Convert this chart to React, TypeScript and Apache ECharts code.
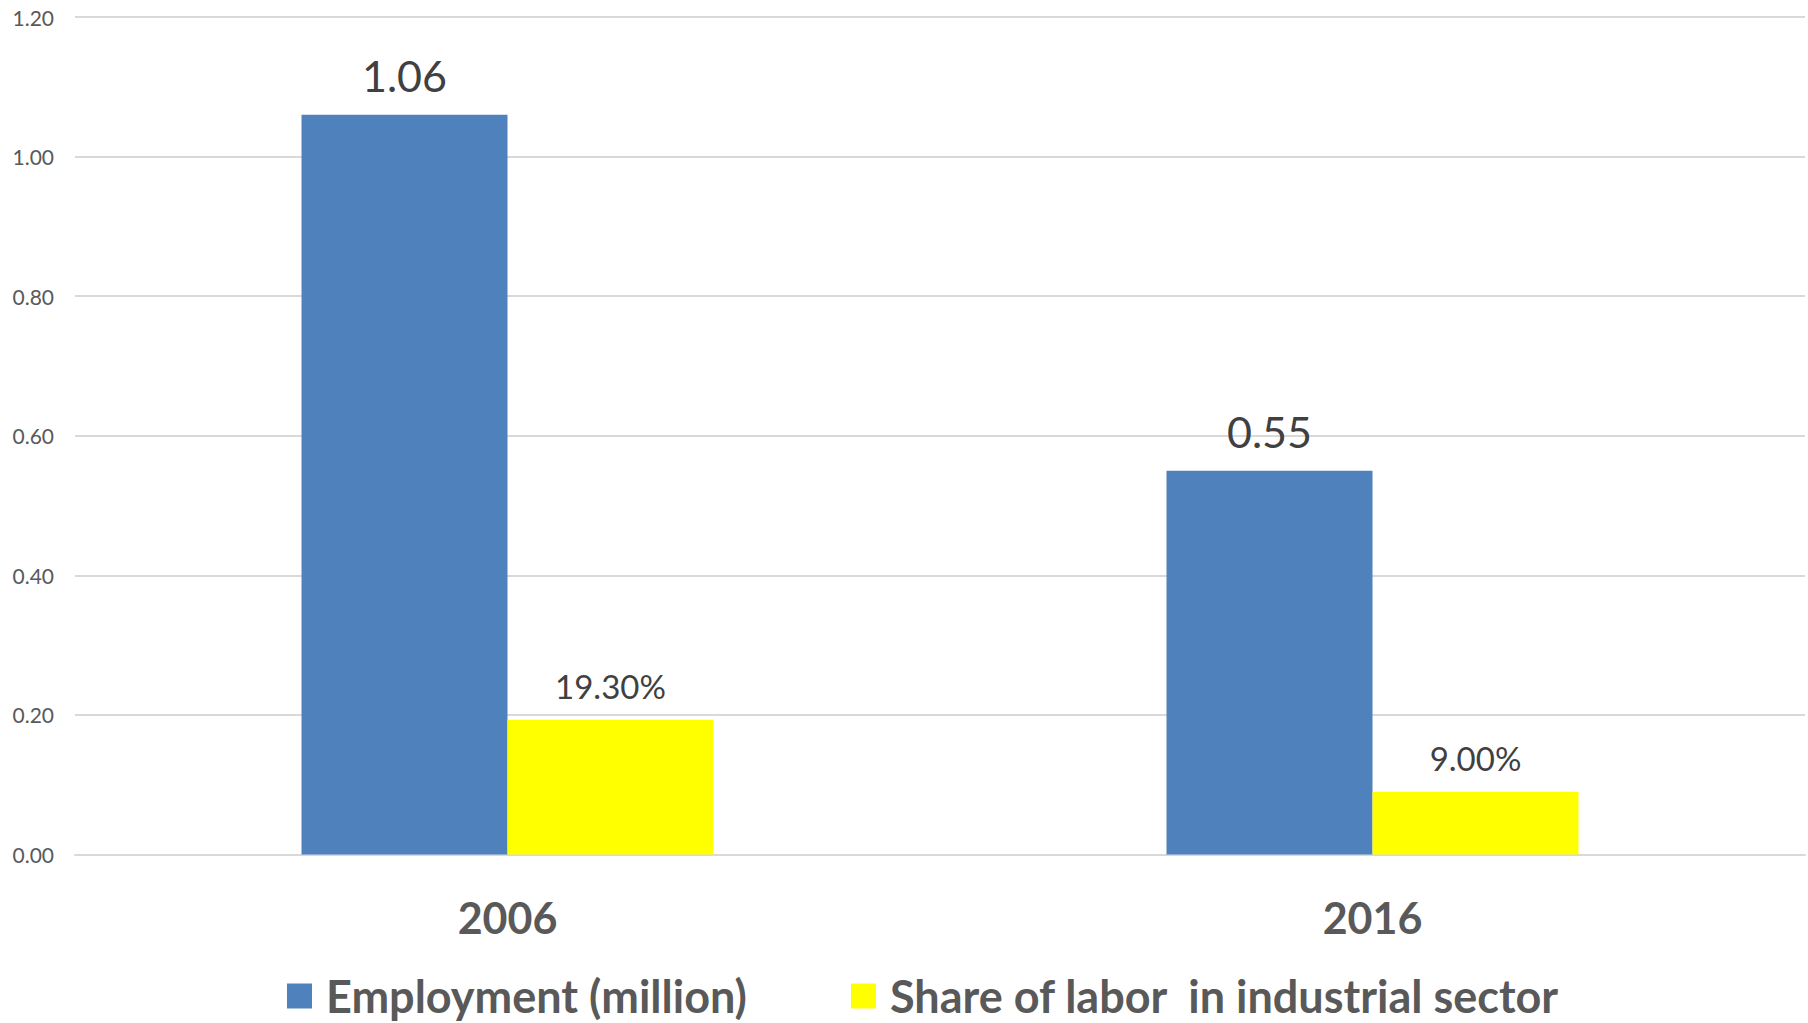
import React, { useEffect, useRef } from "react";
import * as echarts from "echarts";

const categories = ["2006", "2016"];
const employment = [1.06, 0.55];
const shareOfLabor = [0.193, 0.09];
const seriesNames = ["Employment (million)", "Share of labor  in industrial sector"];
const yTicks = { min: 0, max: 1.2, interval: 0.2 };

const FONT = "Lato, 'Open Sans', sans-serif";

export default function App() {
  const ref = useRef<HTMLDivElement>(null);
  useEffect(() => {
    document.body.style.margin = "0";
    const chart = echarts.init(ref.current!, null, { renderer: "svg" });
    chart.setOption({
      animation: false,
      backgroundColor: "#ffffff",
      textStyle: { fontFamily: FONT },
      grid: { left: 75, right: 3, top: 17, bottom: 168.5, containLabel: false },
      legend: {
        left: 282,
        top: 968,
        itemWidth: 25,
        itemHeight: 25,
        itemGap: 104,
        icon: "rect",
        textStyle: {
          fontSize: 45,
          lineHeight: 46,
          fontWeight: "bold",
          color: "#595959",
          fontFamily: FONT,
          padding: [0, 0, 0, 9],
        },
        data: seriesNames,
      },
      xAxis: {
        type: "category",
        data: categories,
        axisLine: { show: true, lineStyle: { color: "#d9d9d9", width: 2 } },
        axisTick: { show: false },
        axisLabel: { fontSize: 43, fontWeight: "bold", color: "#595959", margin: 41, fontFamily: FONT },
      },
      yAxis: {
        type: "value",
        min: yTicks.min,
        max: yTicks.max,
        interval: yTicks.interval,
        axisLine: { show: false },
        axisTick: { show: false },
        splitLine: { lineStyle: { color: "#d9d9d9", width: 2 } },
        axisLabel: {
          fontSize: 21,
          color: "#595959",
          margin: 21,
          fontFamily: FONT,
          formatter: (v: number) => v.toFixed(2),
        },
      },
      series: [
        {
          name: seriesNames[0],
          type: "bar",
          data: employment,
          barWidth: 206,
          barGap: "0%",
          itemStyle: { color: "#4f81bd" },
          label: {
            show: true,
            position: "top",
            distance: 18,
            fontSize: 43,
            color: "#404040",
            fontFamily: FONT,
            formatter: (p: any) => p.value.toFixed(2),
          },
        },
        {
          name: seriesNames[1],
          type: "bar",
          data: shareOfLabor,
          barWidth: 206,
          barGap: "0%",
          itemStyle: { color: "#ffff00" },
          label: {
            show: true,
            position: "top",
            distance: 17,
            fontSize: 33,
            color: "#404040",
            fontFamily: FONT,
            formatter: (p: any) => (p.value * 100).toFixed(2) + "%",
          },
        },
      ],
    });
    return () => chart.dispose();
  }, []);
  return <div ref={ref} style={{ width: 1808, height: 1023 }} />;
}
